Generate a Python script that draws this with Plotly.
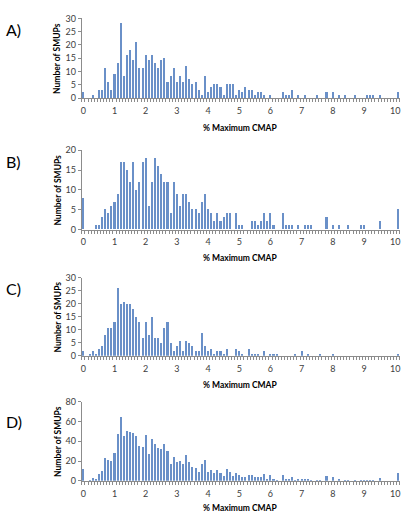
import plotly.graph_objects as go

# categories: % Maximum CMAP bins (0.0 ... 10.1)
bins = [round(i * 0.1, 1) for i in range(102)]
tick_vals = list(range(0, 11))
tick_text = [str(v) for v in tick_vals]

smups_a = [2, 0, 0, 1, 0, 3, 3, 11, 6, 3,
           9, 13, 28, 8, 16, 18, 14, 21, 11, 11,
           16, 14, 16, 13, 11, 14, 15, 6, 8, 11,
           6, 8, 6, 12, 7, 5, 6, 3, 1, 8,
           2, 4, 5, 5, 4, 1, 5, 5, 5, 1,
           3, 2, 4, 3, 3, 1, 2, 2, 1, 0,
           1, 0, 0, 0, 2, 1, 1, 3, 0, 1,
           0, 1, 0, 0, 0, 1, 0, 0, 2, 0,
           2, 0, 1, 0, 1, 0, 0, 1, 0, 0,
           0, 1, 1, 1, 0, 1, 0, 0, 0, 0,
           0, 2]
smups_b = [8, 0, 0, 0, 1, 1, 3, 5, 4, 6,
           7, 9, 17, 17, 15, 12, 17, 10, 12, 17,
           18, 6, 12, 18, 16, 14, 12, 12, 4, 12,
           9, 6, 9, 9, 7, 5, 5, 4, 7, 9,
           5, 4, 2, 4, 2, 3, 4, 4, 0, 4,
           1, 1, 0, 0, 2, 2, 1, 2, 4, 2,
           4, 1, 0, 0, 4, 1, 1, 1, 0, 1,
           0, 1, 1, 1, 0, 0, 0, 0, 3, 0,
           1, 0, 1, 0, 0, 1, 0, 0, 0, 1,
           1, 0, 0, 0, 0, 2, 0, 0, 0, 0,
           0, 5]
smups_c = [2, 0, 1, 2, 1, 3, 4, 8, 11, 11,
           13, 26, 20, 21, 20, 20, 18, 15, 13, 7,
           13, 8, 15, 7, 7, 5, 11, 13, 5, 2,
           4, 6, 2, 6, 5, 4, 2, 2, 9, 4,
           2, 3, 1, 2, 2, 1, 3, 0, 0, 3,
           2, 1, 0, 3, 1, 1, 1, 0, 2, 0,
           1, 1, 1, 0, 0, 0, 0, 0, 1, 0,
           2, 0, 1, 0, 0, 0, 1, 0, 0, 0,
           1, 0, 0, 0, 0, 0, 0, 0, 0, 0,
           0, 0, 0, 0, 0, 0, 0, 0, 0, 0,
           0, 1]
smups_d = [12, 0, 1, 3, 2, 7, 10, 24, 21, 20,
           29, 48, 65, 46, 51, 50, 49, 46, 36, 35,
           47, 28, 43, 38, 34, 33, 38, 31, 17, 25,
           19, 20, 17, 27, 19, 14, 13, 9, 17, 21,
           9, 11, 8, 11, 8, 5, 12, 9, 5, 8,
           6, 4, 4, 6, 6, 4, 4, 4, 7, 2,
           6, 2, 1, 0, 6, 2, 2, 4, 1, 2,
           2, 2, 2, 1, 0, 1, 1, 0, 5, 0,
           4, 0, 2, 0, 1, 1, 0, 1, 0, 1,
           1, 1, 1, 1, 0, 3, 0, 0, 0, 0,
           0, 8]

# letter, values, y max, y step, y domain, x-title y (px), letter y (px)
panels = [
    ("A)", smups_a, 30, 5, [0.8216, 0.9759], 125, 24),
    ("B)", smups_b, 20, 5, [0.5668, 0.7205], 257, 159),
    ("C)", smups_c, 30, 5, [0.3220, 0.4738], 387, 289),
    ("D)", smups_d, 80, 20, [0.0797, 0.2334], 513, 424),
]

W, H = 412, 527
x_dom = [81.2 / W, 400.8 / W]
bar_color = "#6A90C8"
axis_col = "#8C8C8C"
txt_col = "#404040"
font_fam = "Lato, 'Open Sans', sans-serif"

fig = go.Figure()
layout = dict(
    width=W, height=H, margin=dict(l=0, r=0, t=0, b=0),
    paper_bgcolor="white", plot_bgcolor="white",
    showlegend=False, bargap=0,
    font=dict(family=font_fam, size=9, color=txt_col),
)
annotations = []
for i, (letter, vals, ymax, dy, ydom, xt_y, let_y) in enumerate(panels):
    n = "" if i == 0 else str(i + 1)
    fig.add_trace(go.Bar(x=bins, y=vals, width=0.05, marker_color=bar_color,
                         marker_line_width=0, xaxis="x" + n, yaxis="y" + n))
    layout["xaxis" + n] = dict(
        domain=x_dom, range=[-0.05, 10.15], anchor="y" + n,
        tickvals=tick_vals, ticktext=tick_text, ticks="",
        showline=True, linecolor=axis_col, linewidth=1,
        showgrid=False, zeroline=False, ticklabelstandoff=4,
        tickfont=dict(size=9, color=txt_col),
        minor=dict(tick0=-0.05, dtick=0.1, ticks="outside", ticklen=3,
                   tickcolor=axis_col, showgrid=False),
    )
    layout["yaxis" + n] = dict(
        domain=ydom, range=[0, ymax], anchor="x" + n, dtick=dy,
        showline=True, linecolor=axis_col, linewidth=1,
        ticks="outside", ticklen=3, tickcolor=axis_col,
        showgrid=False, zeroline=False,
        tickfont=dict(size=9, color=txt_col),
    )
    ymid = (ydom[0] + ydom[1]) / 2
    annotations.append(dict(text="<b>Number of SMUPs</b>", textangle=-90,
                            x=57 / W, y=ymid, xref="paper", yref="paper",
                            showarrow=False, xanchor="center", yanchor="middle",
                            font=dict(size=8.5, color="black", family=font_fam)))
    annotations.append(dict(text="<b>% Maximum CMAP</b>",
                            x=241 / W, y=1 - xt_y / H, xref="paper", yref="paper",
                            showarrow=False, xanchor="center", yanchor="middle",
                            font=dict(size=8.5, color="black", family=font_fam)))
    annotations.append(dict(text=letter, x=3 / W, y=1 - let_y / H,
                            xref="paper", yref="paper", showarrow=False,
                            xanchor="left", yanchor="middle",
                            font=dict(size=16, color="black", family=font_fam)))

layout["annotations"] = annotations
fig.update_layout(**layout)
fig.write_html("out.html")
